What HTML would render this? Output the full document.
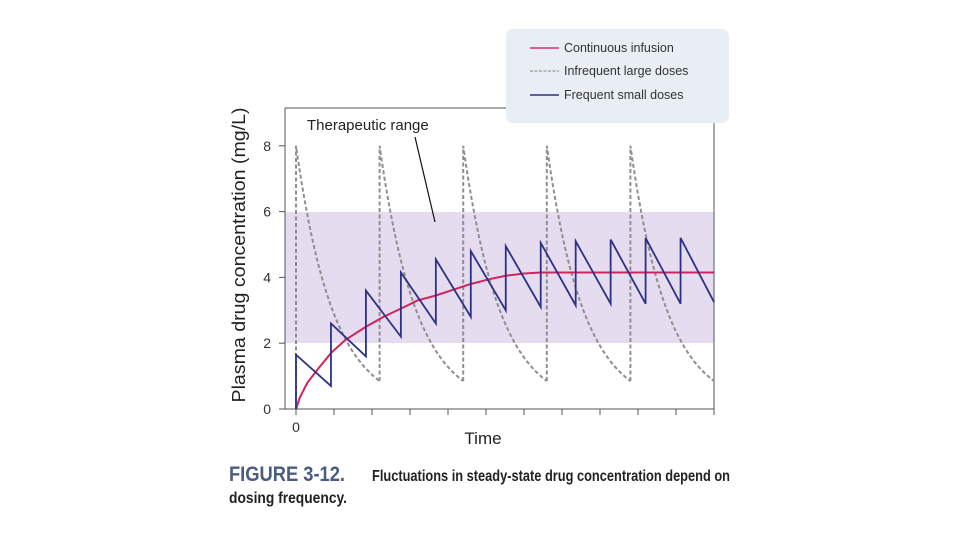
<!DOCTYPE html>
<html><head><meta charset="utf-8"><style>
html,body{margin:0;padding:0;background:#fff;}
svg{display:block;font-family:"Liberation Sans",sans-serif;}
</style></head><body>
<svg id="chart" width="960" height="540" viewBox="0 0 960 540">
<rect x="506" y="29" width="223" height="94" rx="7" fill="#e9edf4"/>
<rect x="285" y="212" width="429" height="131" fill="#e6dcef"/>
<g id="axes"></g>
<g id="series"></g>
<text x="307" y="130" font-size="15" fill="#222">Therapeutic range</text>
<line x1="415" y1="137" x2="435" y2="222" stroke="#111" stroke-width="1.2"/>
<text transform="translate(245,255) rotate(-90)" text-anchor="middle" font-size="18" fill="#222" textLength="295" lengthAdjust="spacingAndGlyphs">Plasma drug concentration (mg/L)</text>
<text x="483" y="444" text-anchor="middle" font-size="17" fill="#222">Time</text>
<g>
<line x1="530" y1="48" x2="559" y2="48" stroke="#d6336c" stroke-width="1.5"/>
<text x="564" y="52" font-size="12.5" fill="#333">Continuous infusion</text>
<line x1="530" y1="71" x2="559" y2="71" stroke="#999" stroke-width="1.2" stroke-dasharray="3,1.5"/>
<text x="564" y="75" font-size="12.5" fill="#333">Infrequent large doses</text>
<line x1="530" y1="95" x2="559" y2="95" stroke="#2b3286" stroke-width="1.5"/>
<text x="564" y="99" font-size="12.5" fill="#333">Frequent small doses</text>
</g>
<text x="229" y="481" font-size="21" font-weight="bold" fill="#4a5c80" textLength="116" lengthAdjust="spacingAndGlyphs">FIGURE 3-12.</text>
<text x="372" y="481" font-size="16" font-weight="bold" fill="#222" textLength="358" lengthAdjust="spacingAndGlyphs">Fluctuations in steady-state drug concentration depend on</text>
<text x="229" y="503" font-size="16" font-weight="bold" fill="#222" textLength="118" lengthAdjust="spacingAndGlyphs">dosing frequency.</text>
</svg>
<script>
const yTicks=[0,2,4,6,8];
const xTickCount=[0,1,2,3,4,5,6,7,8,9,10,11];
const smallDoseTimes=[0,0.92,1.84,2.76,3.68,4.6,5.52,6.44,7.36,8.28,9.2,10.12];
const smallPeaks=[1.65,2.6,3.6,4.15,4.55,4.8,4.95,5.05,5.1,5.15,5.2,5.2];
const smallTroughs=[0.7,1.6,2.2,2.6,2.8,3.0,3.1,3.15,3.2,3.2,3.2,3.25];
const largeDoseTimes=[0,2.2,4.4,6.6,8.8];
const largePeaks=[8,8,8,8,8];
const largeTroughs=[0.85,0.85,0.85,0.85,0.85];
const infusionTimes=[0,0.1,0.3,0.6,0.92,1.3,1.84,2.3,2.76,3.2,3.68,4.2,4.6,5.1,5.52,6,6.44,7,11];
const infusionValues=[0,0.35,0.8,1.25,1.7,2.1,2.5,2.8,3.05,3.3,3.45,3.65,3.8,3.95,4.05,4.12,4.15,4.15,4.15];
const tEnd=11;
const X=t=>296+38*t, Y=v=>409-32.9*v;
const NS="http://www.w3.org/2000/svg";
function mk(tag,attrs,parent){const e=document.createElementNS(NS,tag);for(const k in attrs)e.setAttribute(k,attrs[k]);parent.appendChild(e);return e;}
const ax=document.getElementById('axes'), se=document.getElementById('series');
let l=mk('line',{x1:285,y1:108,x2:506,y2:108,stroke:'#555','stroke-width':1},ax);


l=mk('line',{x1:714,y1:123,x2:714,y2:409,stroke:'#555','stroke-width':1},ax);


l=mk('line',{x1:285,y1:108,x2:285,y2:409,stroke:'#555','stroke-width':1},ax);


l=mk('line',{x1:285,y1:409,x2:714,y2:409,stroke:'#555','stroke-width':1},ax);


yTicks.forEach(v=>{
 const t=mk('line',{x1:279,y1:Y(v),x2:285,y2:Y(v),stroke:'#555'},ax);
 
 
 const tx=mk('text',{x:271,y:Y(v)+5,'text-anchor':'end','font-size':14,fill:'#333'},ax);tx.textContent=v;
 
 
});
xTickCount.forEach(i=>{
 const t=mk('line',{x1:X(i),y1:409,x2:X(i),y2:415,stroke:'#555'},ax);
 
 
});
const x0=mk('text',{x:X(0),y:432,'text-anchor':'middle','font-size':14,fill:'#333'},ax);x0.textContent='0';


let d='';
largeDoseTimes.forEach((t0,i)=>{
 const t1=i+1<largeDoseTimes.length?largeDoseTimes[i+1]:tEnd;
 const span=t1-t0, p=largePeaks[i], q=largeTroughs[i], k=Math.log(p/q)/span;
 d+=`M${X(t0)},${Y(i?largeTroughs[i-1]:0)}L${X(t0)},${Y(p)}`;
 for(let s=1;s<=40;s++){const tt=span*s/40;d+=`L${X(t0+tt)},${Y(p*Math.exp(-k*tt))}`;}
});
let p=mk('path',{d:d,fill:'none',stroke:'#8f8f8f','stroke-width':2,'stroke-dasharray':'4,2.5'},se);


d='';infusionTimes.forEach((t,i)=>{d+=(i?'L':'M')+X(t)+','+Y(infusionValues[i]);});
p=mk('path',{d:d,fill:'none',stroke:'#d0245e','stroke-width':2},se);


d='';
smallDoseTimes.forEach((t0,i)=>{
 const t1=i+1<smallDoseTimes.length?smallDoseTimes[i+1]:tEnd;
 d+=(i?'L':'M')+X(t0)+','+Y(i?smallTroughs[i-1]:0);
 d+='L'+X(t0)+','+Y(smallPeaks[i])+'L'+X(t1)+','+Y(smallTroughs[i]);
});
p=mk('path',{d:d,fill:'none',stroke:'#2b3286','stroke-width':1.8},se);


</script>
</body></html>
